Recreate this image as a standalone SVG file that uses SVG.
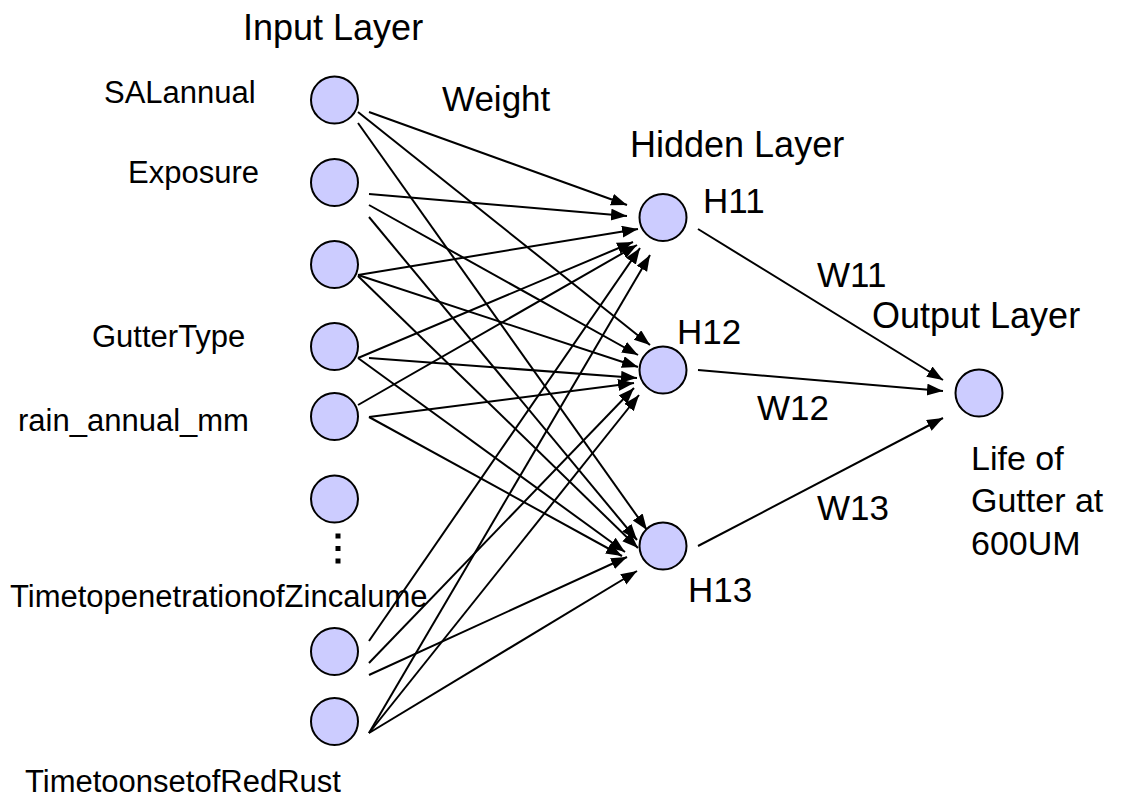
<svg xmlns="http://www.w3.org/2000/svg" width="1124" height="798" viewBox="0 0 1124 798">
  <defs>
    <marker id="arrow" markerUnits="userSpaceOnUse" markerWidth="17" markerHeight="13" refX="16" refY="6" orient="auto">
      <path d="M0,0 L16,6 L0,12 z" fill="#000"/>
    </marker>
    <style>
      .node { fill: #ccccff; stroke: #000; stroke-width: 2; }
      .edge { stroke: #000; stroke-width: 2; fill: none; marker-end: url(#arrow); }
      .lbl { font-family: "Liberation Sans", Arial, sans-serif; font-size: 31px; fill: #000; }
      .big { font-family: "Liberation Sans", Arial, sans-serif; font-size: 35px; fill: #000; }
      .title { font-family: "Liberation Sans", Arial, sans-serif; font-size: 36px; fill: #000; }
      .out { font-family: "Liberation Sans", Arial, sans-serif; font-size: 34px; fill: #000; }
    </style>
  </defs>
  <rect width="1124" height="798" fill="#fff"/>

  <!-- layer titles -->
  <text class="title" x="243" y="40">Input Layer</text>
  <text class="big" x="442" y="111">Weight</text>
  <text class="title" x="630" y="157">Hidden Layer</text>
  <text class="title" x="872" y="328">Output Layer</text>

  <!-- weights between input and hidden layer -->
  <g id="connectors">
    <line class="edge" x1="369" y1="112" x2="627" y2="205"/>
    <line class="edge" x1="358" y1="112" x2="650" y2="345"/>
    <line class="edge" x1="358" y1="123" x2="647" y2="530"/>

    <line class="edge" x1="369" y1="194" x2="627" y2="216"/>
    <line class="edge" x1="369" y1="205" x2="638" y2="355"/>
    <line class="edge" x1="369" y1="217" x2="637" y2="540"/>

    <line class="edge" x1="358" y1="275" x2="638" y2="229"/>
    <line class="edge" x1="358" y1="275" x2="638" y2="367"/>
    <line class="edge" x1="358" y1="276" x2="638" y2="548"/>

    <line class="edge" x1="358" y1="358" x2="633" y2="242"/>
    <line class="edge" x1="369" y1="358" x2="637" y2="378"/>
    <line class="edge" x1="358" y1="358" x2="625" y2="552"/>

    <line class="edge" x1="358" y1="405" x2="637" y2="245"/>
    <line class="edge" x1="369" y1="417" x2="634" y2="383"/>
    <line class="edge" x1="369" y1="417" x2="622" y2="556"/>

    <line class="edge" x1="369" y1="641" x2="640" y2="248"/>
    <line class="edge" x1="369" y1="663" x2="634" y2="388"/>
    <line class="edge" x1="369" y1="675" x2="627" y2="557"/>

    <line class="edge" x1="369" y1="733" x2="650" y2="255"/>
    <line class="edge" x1="369" y1="733" x2="639" y2="395"/>
    <line class="edge" x1="369" y1="733" x2="637" y2="571"/>

    <!-- hidden to output -->
    <line class="edge" x1="698" y1="229" x2="943" y2="380"/>
    <line class="edge" x1="698" y1="370" x2="943" y2="391"/>
    <line class="edge" x1="698" y1="546" x2="943" y2="418"/>
  </g>

  <!-- input layer -->
  <g id="in-salannual">
    <circle class="node" cx="334.5" cy="100" r="23.5"/>
    <text class="lbl" x="104" y="103">SALannual</text>
  </g>
  <g id="in-exposure">
    <circle class="node" cx="334.5" cy="182.5" r="23.5"/>
    <text class="lbl" x="128" y="183">Exposure</text>
  </g>
  <g id="in-3">
    <circle class="node" cx="334.5" cy="264.5" r="23.5"/>
  </g>
  <g id="in-guttertype">
    <circle class="node" cx="334.5" cy="346.5" r="23.5"/>
    <text class="lbl" x="92" y="347">GutterType</text>
  </g>
  <g id="in-rain">
    <circle class="node" cx="334.5" cy="416.5" r="23.5"/>
    <text class="lbl" x="18" y="431">rain_annual_mm</text>
  </g>
  <g id="in-6">
    <circle class="node" cx="334.5" cy="499" r="23.5"/>
  </g>
  <g id="ellipsis">
    <rect x="335.5" y="533.5" width="5" height="5" fill="#000"/>
    <rect x="335.5" y="546" width="5" height="5" fill="#000"/>
    <rect x="335.5" y="558.5" width="5" height="5" fill="#000"/>
  </g>
  <g id="in-zincalume">
    <circle class="node" cx="334.5" cy="651.5" r="23.5"/>
    <text class="lbl" x="10" y="607">TimetopenetrationofZincalume</text>
  </g>
  <g id="in-redrust">
    <circle class="node" cx="334.5" cy="721.5" r="23.5"/>
    <text class="lbl" x="25" y="792">TimetoonsetofRedRust</text>
  </g>

  <!-- hidden layer -->
  <g id="h11">
    <circle class="node" cx="663" cy="217.5" r="23.5"/>
    <text class="big" x="703" y="213">H11</text>
  </g>
  <g id="h12">
    <circle class="node" cx="663" cy="370" r="23.5"/>
    <text class="big" x="677" y="344">H12</text>
  </g>
  <g id="h13">
    <circle class="node" cx="663" cy="546" r="23.5"/>
    <text class="big" x="688" y="602">H13</text>
  </g>

  <!-- weight labels -->
  <text class="big" x="817" y="287">W11</text>
  <text class="big" x="757" y="420">W12</text>
  <text class="big" x="817" y="520">W13</text>

  <!-- output layer -->
  <g id="output">
    <circle class="node" cx="979" cy="393" r="23.5"/>
    <text class="out" x="971" y="470">Life of</text>
    <text class="out" x="971" y="512">Gutter at</text>
    <text class="out" x="971" y="555">600UM</text>
  </g>
</svg>
